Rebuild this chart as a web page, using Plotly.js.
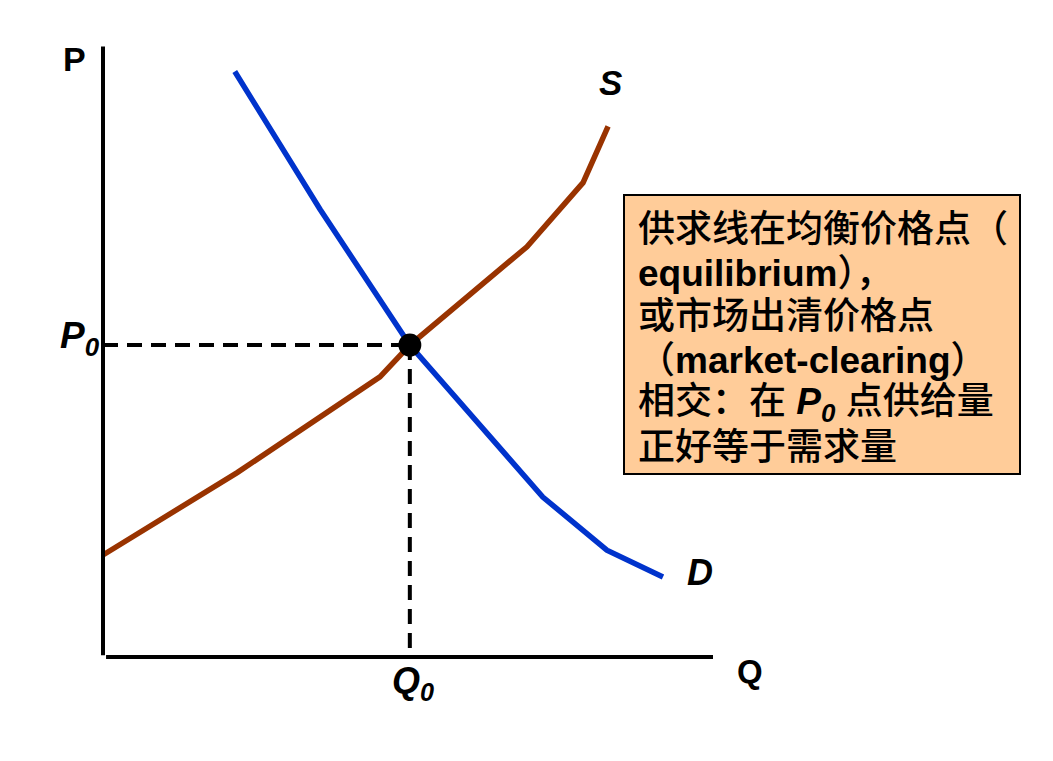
<!DOCTYPE html>
<html>
<head>
<meta charset="utf-8">
<script src="https://cdn.plot.ly/plotly-3.0.1.min.js"></script>
<style>html,body{margin:0;padding:0;background:#fff;}#chart{width:1053px;height:761px;}</style>
</head>
<body>
<div id="chart"></div>
<script>
// ---- data ----
const supplyQ = [0, 2.20, 4.54, 5.03, 6.95, 7.87, 8.28];
const supplyP = [1.67, 3.02, 4.59, 5.11, 6.72, 7.77, 8.69];
const demandQ = [2.16, 3.56, 5.03, 7.21, 8.26, 9.18];
const demandP = [9.59, 7.33, 5.11, 2.62, 1.75, 1.31];
const eqQ = [5.03];
const eqP = [5.11];
const boxLines = [
  '供求线在均衡价格点（',
  '<b>equilibrium</b>），',
  '或市场出清价格点',
  '（<b>market-clearing</b>）',
  '相交：在 <b><i>P</i></b><sub><b><i>0</i></b></sub> 点供给量',
  '正好等于需求量'
];

// ---- layout helpers (pixel -> paper) ----
const L = 42, R = 279, T = 16, B = 43, W = 1053, H = 761;
const pw = W - L - R, ph = H - T - B;
const px = v => (v - L) / pw;
const py = v => (H - B - v) / ph;

const latin = 'Liberation Sans, Arial, sans-serif';
const mixed = 'Liberation Sans, Noto Sans CJK SC, sans-serif';

const traces = [
  {x: [0, eqQ[0]], y: [eqP[0], eqP[0]], mode: 'lines', line: {color: '#000', width: 4, dash: '15px,9px'}, hoverinfo: 'skip'},
  {x: [eqQ[0], eqQ[0]], y: [eqP[0], 0], mode: 'lines', line: {color: '#000', width: 4, dash: '15px,9px'}, hoverinfo: 'skip'},
  {x: supplyQ, y: supplyP, mode: 'lines', line: {color: '#993300', width: 5.5}, name: 'S'},
  {x: demandQ, y: demandP, mode: 'lines', line: {color: '#0033CC', width: 5.5}, name: 'D'},
  {x: eqQ, y: eqP, mode: 'markers', marker: {color: '#000', size: 23}, cliponaxis: false, name: 'E'}
];

const ann = [];
function lab(text, x, y, size, anchor) {
  ann.push({xref: 'paper', yref: 'paper', x: px(x), y: py(y), text: text, showarrow: false,
    xanchor: anchor || 'center', yanchor: 'middle', font: {family: latin, size: size, color: '#000'}});
}
lab('<b>P</b>', 74, 59, 34);
lab('<b>Q</b>', 750, 671, 33);
lab('<b><i>S</i></b>', 610, 82, 35);
lab('<b><i>D</i></b>', 700, 572, 36);
lab('<b><i>P<sub>0</sub></i></b>', 80, 338, 37);
lab('<b><i>Q<sub>0</sub></i></b>', 413, 683, 36);

const lineY = [229, 273, 317, 360, 404, 447];
boxLines.forEach((t, i) => {
  ann.push({xref: 'paper', yref: 'paper', x: px(636), y: py(lineY[i]), text: t, showarrow: false,
    xanchor: 'left', yanchor: 'middle', align: 'left', font: {family: mixed, size: 37, weight: 500, color: '#000'}});
});

const shapes = [
  {type: 'rect', xref: 'paper', yref: 'paper', x0: px(624), x1: px(1020), y0: py(474), y1: py(195),
    fillcolor: '#FFCC99', line: {color: '#000', width: 2}, layer: 'below'},
  {type: 'line', xref: 'x', yref: 'y', x0: 0, x1: 0, y0: 0.03, y1: 10, line: {color: '#000', width: 4}},
  {type: 'line', xref: 'x', yref: 'y', x0: 0.05, x1: 10, y0: 0, y1: 0, line: {color: '#000', width: 4}}
];

const layout = {
  width: W, height: H,
  margin: {l: L, r: R, t: T, b: B, pad: 0},
  paper_bgcolor: '#fff', plot_bgcolor: 'rgba(0,0,0,0)',
  showlegend: false,
  xaxis: {range: [-1, 11], visible: false, fixedrange: true},
  yaxis: {range: [-1, 10.5], visible: false, fixedrange: true},
  annotations: ann,
  shapes: shapes
};
Plotly.newPlot('chart', traces, layout, {staticPlot: true, displayModeBar: false});
</script>
</body>
</html>
